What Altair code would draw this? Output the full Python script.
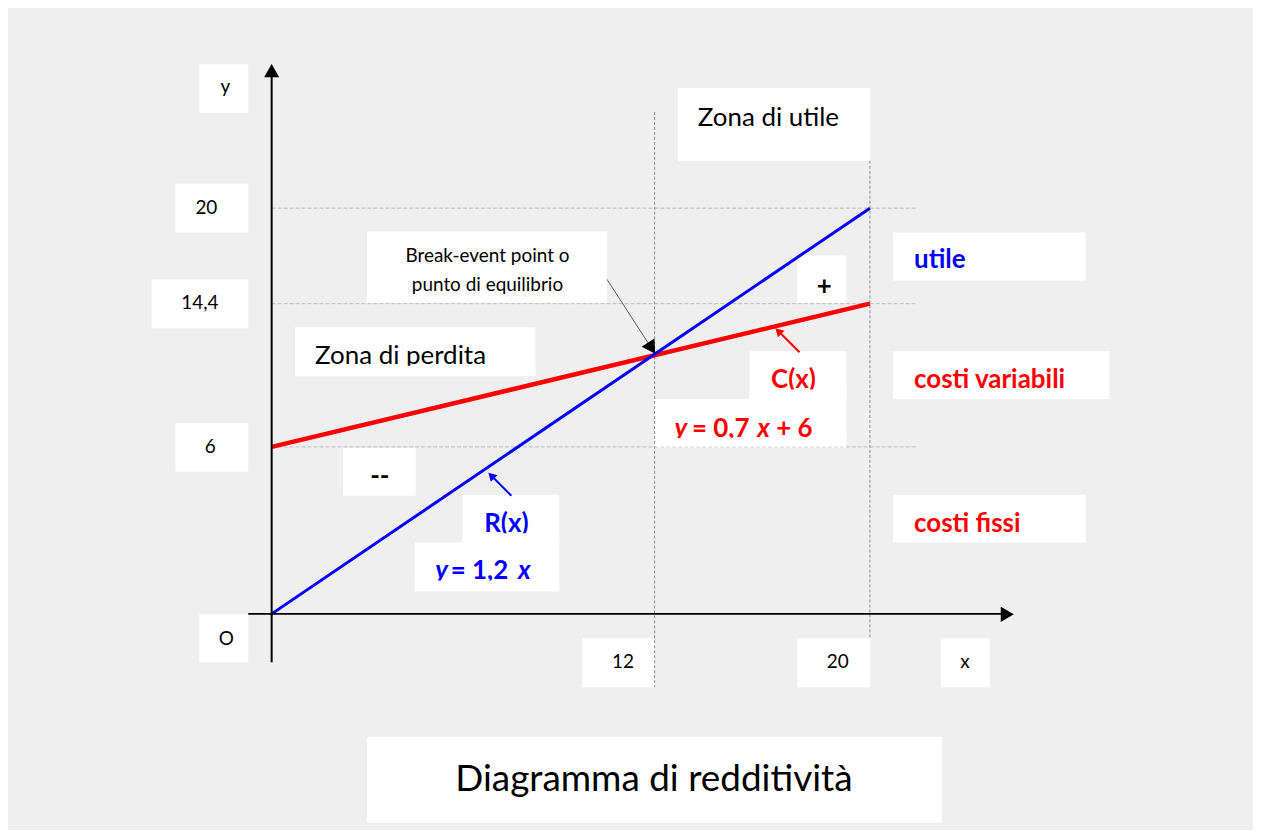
import altair as alt
import pandas as pd

# ---------------- data (values as drawn in the diagram) ----------------
x_points = [0, 20]            # quantity x at the two ends of the lines
revenue = [0, 20]             # R(x) = 1,2 x   (drawn up to the "20" level)
cost = [6, 14.4]              # C(x) = 0,7 x + 6 (drawn up to the "14,4" level)
x_guides = [12, 20]           # break-even quantity, max quantity
y_guides = [20, 14.4, 6]      # reference levels on y
x_tick_labels = ["12", "20"]
y_tick_labels = ["20", "14,4", "6"]
axis_names = ["x", "y", "O"]
title_text = "Diagramma di redditività"

# ---------------- layout helpers ----------------
OFF = 8  # page margin


def px(v):
    return v - OFF


FONT = "Lato"
BLUE = "#0000ff"
RED = "#ff0000"

# piecewise scales: the drawing is schematic, not to scale
X_SCALE = alt.Scale(domain=[0, 12, 20], range=[px(272.5), px(656.7), px(872.7)],
                    nice=False, zero=False)
Y_SCALE = alt.Scale(domain=[0, 6, 14.4, 20], range=[px(614.5), px(447), px(303.3), px(207.5)],
                    nice=False, zero=False)

EMPTY = alt.Data(values=[{}])


def label(t, x, y, size, color="black", weight="normal", style="normal", align="center"):
    return alt.Chart(EMPTY).mark_text(
        text=t, font=FONT, fontSize=size, color=color, fontWeight=weight,
        fontStyle=style, align=align, baseline="alphabetic"
    ).encode(x=alt.value(px(x)), y=alt.value(px(y)))


def seg(x1, y1, x2, y2, color, width):
    return alt.Chart(EMPTY).mark_rule(color=color, strokeWidth=width).encode(
        x=alt.value(px(x1)), y=alt.value(px(y1)), x2=alt.value(px(x2)), y2=alt.value(px(y2)))


def head(x, y, shape, size, color, angle=0):
    return alt.Chart(EMPTY).mark_point(
        shape=shape, size=size, filled=True, color=color, opacity=1, angle=angle, strokeWidth=0
    ).encode(x=alt.value(px(x)), y=alt.value(px(y)))


def wbox(rows, color="white"):
    df = pd.DataFrame(rows, columns=["x1", "y1", "x2", "y2"])
    for c in df.columns:
        df[c] = df[c] - OFF
    return alt.Chart(df).mark_rect(color=color, opacity=1).encode(
        x=alt.X("x1:Q", scale=None, axis=None), x2="x2:Q",
        y=alt.Y("y1:Q", scale=None, axis=None), y2="y2:Q")


# white label boxes (page pixel coordinates)
boxes = wbox([
    (200, 63, 249, 112),    # y
    (176, 183, 249, 232),   # 20
    (152, 279, 249, 328),   # 14,4
    (176, 423, 249, 472),   # 6
    (200, 615, 249, 663),   # O
    (584, 639, 657, 688),   # 12
    (800, 639, 873, 688),   # 20
    (944, 639, 993, 688),   # x
    (680, 87, 873, 160),    # Zona di utile
    (368, 231, 609, 303),   # break-even
    (296, 327, 537, 376),   # Zona di perdita
    (800, 255, 849, 303),   # +
    (344, 448, 417, 496),   # --
    (896, 232, 1089, 280),  # utile
    (752, 351, 849, 399),   # C(x)
    (656, 399, 849, 448),   # y = 0,7 x + 6
    (896, 351, 1113, 399),  # costi variabili
    (896, 495, 1089, 543),  # costi fissi
    (464, 495, 561, 543),   # R(x)
    (416, 543, 561, 592),   # y = 1,2 x
    (368, 738, 945, 824),   # title
])

# dotted guides
vg = pd.DataFrame({"x": x_guides, "top": [px(111), px(160)], "bottom": [px(688), px(638)]})
v_guides = alt.Chart(vg).mark_rule(color="#8a8a8a", strokeWidth=1, strokeDash=[3, 2]).encode(
    x=alt.X("x:Q", scale=X_SCALE, axis=None),
    y=alt.Y("top:Q", scale=None, axis=None), y2="bottom:Q")

hg = pd.DataFrame({"y": y_guides})
h_guides = alt.Chart(hg).mark_rule(color="#bdbdbd", strokeWidth=1, strokeDash=[4, 2]).encode(
    y=alt.Y("y:Q", scale=Y_SCALE, axis=None),
    x=alt.value(px(272.5)), x2=alt.value(px(920)))

# the two functions
rev_df = pd.DataFrame({"x": x_points, "y": revenue})
cost_df = pd.DataFrame({"x": x_points, "y": cost})
cost_line = alt.Chart(cost_df).mark_line(color=RED, strokeWidth=4.5).encode(
    x=alt.X("x:Q", scale=X_SCALE, axis=None), y=alt.Y("y:Q", scale=Y_SCALE, axis=None))
rev_line = alt.Chart(rev_df).mark_line(color=BLUE, strokeWidth=3).encode(
    x=alt.X("x:Q", scale=X_SCALE, axis=None), y=alt.Y("y:Q", scale=Y_SCALE, axis=None))

# axes (drawn as arrows)
y_axis = alt.Chart(pd.DataFrame({"x": [0]})).mark_rule(color="black", strokeWidth=2).encode(
    x=alt.X("x:Q", scale=X_SCALE, axis=None), y=alt.value(px(76)), y2=alt.value(px(663)))
x_axis = alt.Chart(pd.DataFrame({"y": [0]})).mark_rule(color="black", strokeWidth=2).encode(
    y=alt.Y("y:Q", scale=Y_SCALE, axis=None), x=alt.value(px(249)), x2=alt.value(px(1005)))

layers = [
    boxes, h_guides, v_guides, cost_line, rev_line, y_axis, x_axis,
    head(272.5, 69.5, "triangle-up", 230, "black"),
    head(1010.5, 615, "triangle-right", 230, "black"),
    # break-even arrow
    seg(609, 279, 651, 344, "#5a5a5a", 1),
    head(653.7, 348, "triangle-up", 234, "black", 147),
    # C(x) arrow
    seg(802, 352, 781, 331, RED, 2),
    head(780.8, 330.8, "triangle-up", 90, RED, 315),
    # R(x) arrow
    seg(513, 496, 493, 476, BLUE, 2),
    head(492.8, 475.8, "triangle-up", 90, BLUE, 315),
    # axis names and tick labels
    label(axis_names[1], 226, 92, 19),
    label(axis_names[2], 227, 646, 19),
    label(axis_names[0], 968, 669, 19),
    label(y_tick_labels[0], 207, 213, 19),
    label(y_tick_labels[1], 200.5, 309, 19),
    label(y_tick_labels[2], 211, 453, 19),
    label(x_tick_labels[0], 625, 669, 19),
    label(x_tick_labels[1], 840.5, 669, 19),
    # zone texts
    label("Zona di utile", 700, 125, 26, align="left"),
    label("Zona di perdita", 316, 364, 26, align="left"),
    label("Break-event point o", 489, 261, 19),
    label("punto di equilibrio", 489, 291, 19),
    label("+", 827, 295, 26, weight="bold"),
    label("--", 381, 485, 26, weight="bold"),
    label("utile", 917, 268, 26, BLUE, "bold", align="left"),
    label("costi variabili", 917, 388, 26, RED, "bold", align="left"),
    label("costi fissi", 917, 532, 26, RED, "bold", align="left"),
    # cost function
    label("C(x)", 796, 388, 26, RED, "bold"),
    label("y", 683, 437, 26, RED, "bold", "italic"),
    label("= 0,7", 723, 437, 26, RED, "bold"),
    label("x", 766, 437, 26, RED, "bold", "italic"),
    label("+ 6", 797, 437, 26, RED, "bold"),
    # revenue function
    label("R(x)", 508, 532.5, 26, BLUE, "bold"),
    label("y", 443, 580, 26, BLUE, "bold", "italic"),
    label("= 1,2", 481, 580, 26, BLUE, "bold"),
    label("x", 526, 580, 26, BLUE, "bold", "italic"),
    # title
    label(title_text, 656, 792, 37),
    # clipped text bottoms inside the boxes
    wbox([
        (752, 389.5, 849, 398.5),
        (658, 438, 849, 446.5),
        (464, 533.5, 561, 542.5),
        (416, 581, 561, 591.5),
        (296, 365.5, 537, 375.5),
    ]),
]

chart = alt.layer(*layers).resolve_scale(x="independent", y="independent").properties(
    width=1249, height=822, background="#efefef", padding=0, autosize="none"
).configure_view(stroke=None)

chart.save("out.html", embed_options={"renderer": "svg", "actions": False})
